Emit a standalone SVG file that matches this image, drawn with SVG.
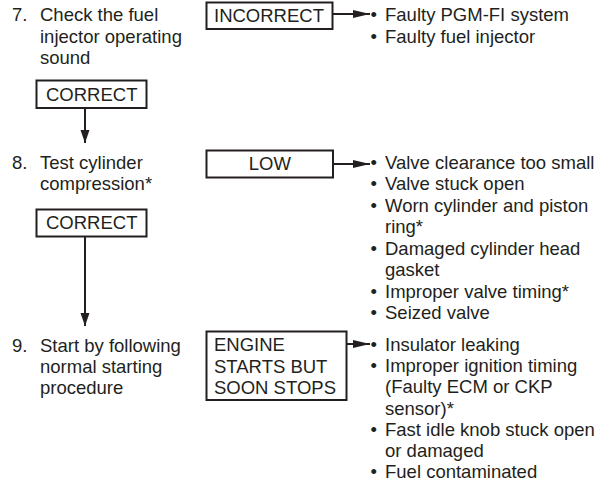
<svg xmlns="http://www.w3.org/2000/svg" width="598" height="483" viewBox="0 0 598 483">
<defs>
<style>
text{font-family:"Liberation Sans",Arial,sans-serif;font-size:18.5px;fill:#231f20}
.box{fill:#fff;stroke:#231f20;stroke-width:2}
.ln{fill:none;stroke:#231f20;stroke-width:2}
</style>
<marker id="ah" markerUnits="userSpaceOnUse" markerWidth="18" markerHeight="10" refX="17" refY="5" orient="auto">
<path d="M0,1 L17,5 L0,9 Z" fill="#231f20"/>
</marker>
<marker id="av" markerUnits="userSpaceOnUse" markerWidth="14" markerHeight="10" refX="13" refY="5" orient="auto">
<path d="M0,0.5 L13,5 L0,9.5 Z" fill="#231f20"/>
</marker>
</defs>
<rect width="598" height="483" fill="#fff"/>

<g id="connectors">
<line class="ln" x1="333" y1="14" x2="370" y2="14" marker-end="url(#ah)"/>
<line class="ln" x1="85" y1="108" x2="85" y2="143" marker-end="url(#av)"/>
<line class="ln" x1="333" y1="164" x2="370" y2="164" marker-end="url(#ah)"/>
<line class="ln" x1="85" y1="236" x2="85" y2="326" marker-end="url(#av)"/>
<line class="ln" x1="347" y1="344" x2="370" y2="344" marker-end="url(#ah)"/>
</g>

<g id="step7">
<text x="12" y="21">7.</text>
<text x="40" y="21">Check the fuel</text>
<text x="40" y="42.5">injector operating</text>
<text x="40" y="64">sound</text>
</g>
<g id="incorrect">
<rect class="box" x="206.5" y="2.5" width="126" height="26.5"/>
<text x="214" y="21.5">INCORRECT</text>
</g>
<g id="causes7">
<text x="370.5" y="21">•</text><text x="385" y="21">Faulty PGM-FI system</text>
<text x="370.5" y="42.5">•</text><text x="385" y="42.5">Faulty fuel injector</text>
</g>
<g id="correct1">
<rect class="box" x="36.5" y="80.5" width="110" height="27.5"/>
<text x="46" y="101">CORRECT</text>
</g>

<g id="step8">
<text x="12" y="168.5">8.</text>
<text x="40" y="168.5">Test cylinder</text>
<text x="40" y="190">compression*</text>
</g>
<g id="low">
<rect class="box" x="206.5" y="150.5" width="126.5" height="27"/>
<text x="269.8" y="170" text-anchor="middle">LOW</text>
</g>
<g id="causes8">
<text x="370.5" y="168.5">•</text><text x="385" y="168.5">Valve clearance too small</text>
<text x="370.5" y="190">•</text><text x="385" y="190">Valve stuck open</text>
<text x="370.5" y="211.5">•</text><text x="385" y="211.5">Worn cylinder and piston</text>
<text x="385" y="233">ring*</text>
<text x="370.5" y="254.5">•</text><text x="385" y="254.5">Damaged cylinder head</text>
<text x="385" y="276">gasket</text>
<text x="370.5" y="297.5">•</text><text x="385" y="297.5">Improper valve timing*</text>
<text x="370.5" y="319">•</text><text x="385" y="319">Seized valve</text>
</g>
<g id="correct2">
<rect class="box" x="36.5" y="209.5" width="110" height="27"/>
<text x="46" y="229">CORRECT</text>
</g>

<g id="step9">
<text x="12" y="351.5">9.</text>
<text x="40" y="351.5">Start by following</text>
<text x="40" y="373">normal starting</text>
<text x="40" y="394">procedure</text>
</g>
<g id="engine">
<rect class="box" x="206.5" y="331.5" width="140" height="68.5"/>
<text x="214" y="351">ENGINE</text>
<text x="214" y="372.5">STARTS BUT</text>
<text x="214" y="393.5">SOON STOPS</text>
</g>
<g id="causes9">
<text x="370.5" y="351">•</text><text x="385" y="351">Insulator leaking</text>
<text x="370.5" y="372.2">•</text><text x="385" y="372.2">Improper ignition timing</text>
<text x="385" y="393.4">(Faulty ECM or CKP</text>
<text x="385" y="414.6">sensor)*</text>
<text x="370.5" y="435.8">•</text><text x="385" y="435.8">Fast idle knob stuck open</text>
<text x="385" y="457">or damaged</text>
<text x="370.5" y="478.2">•</text><text x="385" y="478.2">Fuel contaminated</text>
</g>
</svg>
